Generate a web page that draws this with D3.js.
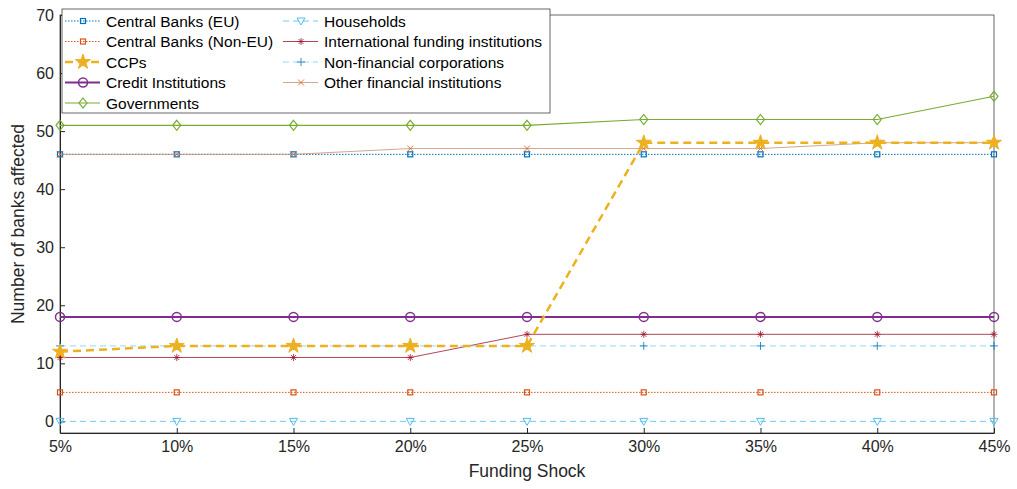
<!DOCTYPE html><html><head><meta charset="utf-8"><script src="https://cdn.jsdelivr.net/npm/d3@7"></script>
<style>body{margin:0;background:#fff}text{font-family:Arial,"Liberation Sans",sans-serif}</style></head><body><svg id="c" width="1017" height="489"></svg><script>
const xLabels=["5%","10%","15%","20%","25%","30%","35%","40%","45%"];
const yTicks=[0,10,20,30,40,50,60,70];
const names=["Central Banks (EU)","Central Banks (Non-EU)","CCPs","Credit Institutions","Governments","Households","International funding institutions","Non-financial corporations","Other financial institutions"];
const cbEU=[46,46,46,46,46,46,46,46,46];
const cbNonEU=[5,5,5,5,5,5,5,5,5];
const ccps=[12,13,13,13,13,48,48,48,48];
const credit=[18,18,18,18,18,18,18,18,18];
const gov=[51,51,51,51,51,52,52,52,56];
const households=[0,0,0,0,0,0,0,0,0];
const intl=[11,11,11,11,15,15,15,15,15];
const nonfin=[13,13,13,13,13,13,13,13,13];
const otherfin=[46,46,46,47,47,47,47,48,48];
const series=[
{v:cbEU,c:"#0072BD",dash:"1.5,1.5",w:1,m:"square"},
{v:cbNonEU,c:"#D95319",dash:"1.5,1.5",w:1,m:"square"},
{v:ccps,c:"#EDB120",dash:"8,5",w:2.5,m:"star"},
{v:credit,c:"#7E2F8E",dash:null,w:2,m:"circle"},
{v:gov,c:"#77AC30",dash:null,w:1.2,m:"diamond"},
{v:households,c:"#4DBEEE",dash:"6,4",w:0.8,m:"tri"},
{v:intl,c:"#A2142F",dash:null,w:0.8,m:"asterisk"},
{v:nonfin,c:"#0072BD",dash:"6,4",w:0.6,m:"plus",lc:"#4DBEEE"},
{v:otherfin,c:"#D95319",dash:null,w:0.8,m:"x",lc:"#c9906e"}];
const svg=d3.select("#c");
const L=60,R=994,T=15,B=433;
const x=d3.scalePoint().domain(xLabels).range([L,R]);
const y=d3.scaleLinear().domain([-2,70]).range([B,T]);
svg.append("rect").attr("x",L).attr("y",T).attr("width",R-L).attr("height",B-T).attr("fill","none").attr("stroke","#262626").attr("stroke-width",0.7);
const gx=svg.append("g").attr("transform",`translate(0,${B})`).call(d3.axisBottom(x).tickSizeInner(-5).tickSizeOuter(0).tickPadding(8));
const gy=svg.append("g").attr("transform",`translate(${L},0)`).call(d3.axisLeft(y).tickValues(yTicks).tickSizeInner(-5).tickSizeOuter(0).tickPadding(6));
[gx,gy].forEach(g=>{g.select(".domain").attr("stroke","#262626");g.selectAll("line").attr("stroke","#262626");g.selectAll("text").attr("font-size",16).attr("fill","#262626");});
svg.append("text").attr("x",(L+R)/2).attr("y",477).attr("text-anchor","middle").attr("font-size",17.5).attr("fill","#262626").text("Funding Shock");
svg.append("text").attr("transform",`translate(24,${(T+B)/2}) rotate(-90)`).attr("text-anchor","middle").attr("font-size",17.5).attr("fill","#262626").text("Number of banks affected");
function marker(g,type,c,cx,cy){
 const s=g.append("g").attr("transform",`translate(${cx},${cy})`);
 if(type==="square")s.append("rect").attr("x",-2.5).attr("y",-2.5).attr("width",5).attr("height",5).attr("fill","none").attr("stroke",c).attr("stroke-width",1.2);
 else if(type==="star")s.append("path").attr("d",d3.symbol(d3.symbolStar,70)()).attr("fill",c).attr("stroke",c);
 else if(type==="circle")s.append("circle").attr("r",4.5).attr("fill","none").attr("stroke",c).attr("stroke-width",1.5);
 else if(type==="diamond")s.append("path").attr("d","M0,-5L4,0L0,5L-4,0Z").attr("fill","none").attr("stroke",c).attr("stroke-width",1.2);
 else if(type==="tri")s.append("path").attr("d","M-4,-3L4,-3L0,4Z").attr("fill","none").attr("stroke",c).attr("stroke-width",1);
 else if(type==="plus")s.append("path").attr("d","M-4,0H4M0,-4V4").attr("stroke",c).attr("stroke-width",0.8);
 else if(type==="x")s.append("path").attr("d","M-3,-3L3,3M-3,3L3,-3").attr("stroke",c).attr("stroke-width",0.8);
 else if(type==="asterisk")s.append("path").attr("d","M-3.5,0H3.5M0,-3.5V3.5M-2.5,-2.5L2.5,2.5M-2.5,2.5L2.5,-2.5").attr("stroke",c).attr("stroke-width",0.8);
}
const line=d3.line().x((d,i)=>x(xLabels[i])).y(d=>y(d));
const order=[0,1,5,6,7,8,3,4,2];
order.forEach(k=>{const s=series[k];const g=svg.append("g");
 g.append("path").attr("d",line(s.v)).attr("fill","none").attr("stroke",s.lc||s.c).attr("stroke-width",s.w).attr("stroke-dasharray",s.dash);
 s.v.forEach((v,i)=>marker(g,s.m,s.c,x(xLabels[i]),y(v)));});
const lg=svg.append("g");
lg.append("rect").attr("x",62).attr("y",9).attr("width",488).attr("height",104).attr("fill","#fff").attr("stroke","#262626").attr("stroke-width",0.7);
series.forEach((s,i)=>{const col=i<5?0:1,row=i<5?i:i-5;const lx=col?218:0;const bx=63+lx,by=21+row*20.5;
 lg.append("line").attr("x1",bx+2).attr("x2",bx+37).attr("y1",by).attr("y2",by).attr("stroke",s.lc||s.c).attr("stroke-width",s.w).attr("stroke-dasharray",s.dash);
 marker(lg,s.m,s.c,bx+20,by);
 lg.append("text").attr("x",bx+43).attr("y",by+5.5).attr("font-size",15.5).attr("fill","#000").text(names[i]);});
</script></body></html>
